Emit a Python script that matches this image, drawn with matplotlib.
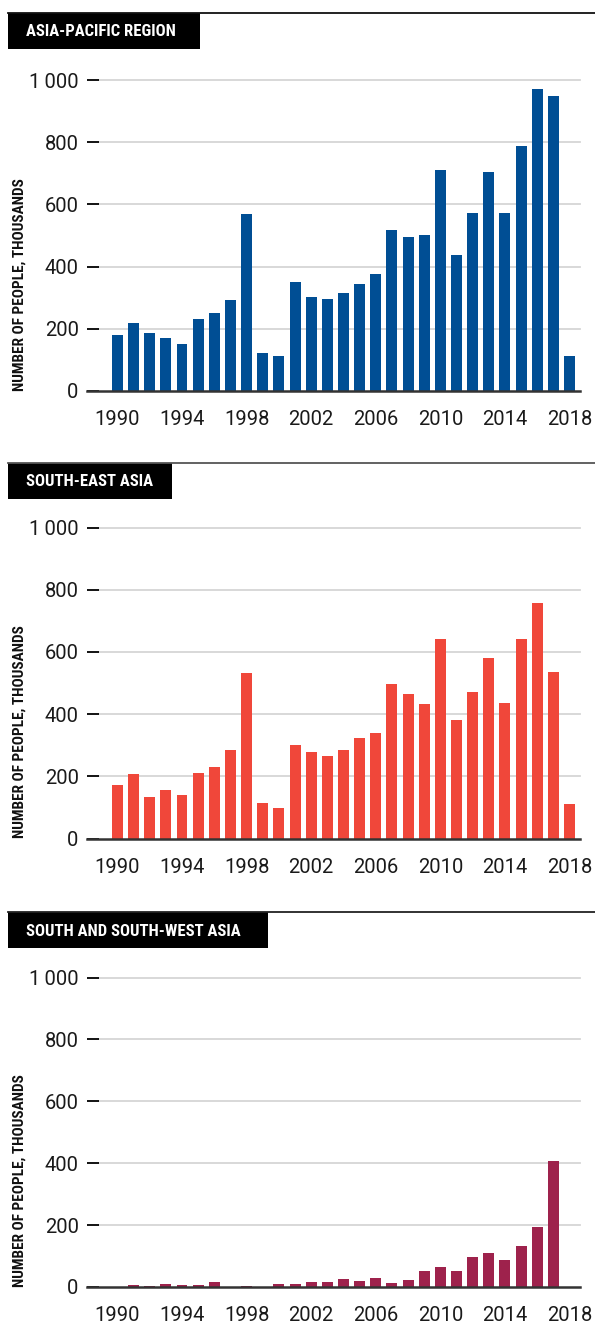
import numpy as np
import matplotlib.pyplot as plt
from matplotlib.patches import Rectangle
from matplotlib.lines import Line2D

# ----------------------------------------------------------------------
# data (thousands of people)
# ----------------------------------------------------------------------

years = list(range(1990, 2019))

asia_pacific = [179, 218, 186, 170, 150, 231, 250, 292, 569, 121,
                112, 350, 301, 295, 314, 343, 376, 517, 495, 501,
                710, 437, 572, 704, 572, 788, 971, 948, 112]

south_east = [172, 207, 133, 156, 139, 210, 230, 284, 532, 114,
              98, 300, 278, 265, 284, 323, 339, 496, 464, 432,
              641, 380, 471, 580, 435, 641, 757, 535, 110]

south_west = [0, 6, 3, 10, 6, 6, 16, 0, 3, 0,
              10, 10, 16, 16, 26, 19, 29, 13, 23, 52,
              65, 52, 97, 110, 87, 132, 194, 406, 0]

titles = ['ASIA-PACIFIC REGION', 'SOUTH-EAST ASIA', 'SOUTH AND SOUTH-WEST ASIA']
series = [asia_pacific, south_east, south_west]
colors = ['#004e94', '#f0473a', '#9e224c']
yticks = [0, 200, 400, 600, 800, 1000]
ytick_labels = ['0', '200', '400', '600', '800', '1\u2009000']
xticks = [1990, 1994, 1998, 2002, 2006, 2010, 2014, 2018]

# ----------------------------------------------------------------------
# layout, in pixels of the 595 x 1325 picture
# ----------------------------------------------------------------------

W, H = 595, 1325
AX_L, AX_R = 99, 580
TICK_L = 87
tops = [80, 527.5, 977.5]       # y pixel of the 1000 line
bots = [391, 838.5, 1287]       # y pixel of 0
rule_y = [13, 462.5, 912]       # thin line above each panel
box_w = [192, 164, 260]
box_h = 36
rule_colors = ['#111111', '#555555', '#222222']

plt.rcParams['font.family'] = ['Roboto', 'DejaVu Sans']
cond = ['Roboto Condensed', 'Roboto', 'DejaVu Sans']

fig = plt.figure(figsize=(W / 100, H / 100), dpi=100)

for i in range(3):
    ax = fig.add_axes([AX_L / W, 1 - bots[i] / H,
                       (AX_R - AX_L) / W, (bots[i] - tops[i]) / H])
    ax.bar(years, series[i], width=0.68, color=colors[i], zorder=3)
    ax.set_xlim(1988.86, 2018.65)
    ax.set_ylim(0, 1000)

    ax.set_yticks(yticks)
    ax.set_yticklabels(ytick_labels)
    ax.set_xticks(xticks)
    ax.set_xticklabels([str(x) for x in xticks])
    ax.tick_params(axis='y', length=12 * 0.72, width=1.3, color='black',
                   pad=6, labelsize=14.5, labelcolor='#1a1a1a')
    ax.tick_params(axis='x', length=0, pad=14, labelsize=14.5,
                   labelcolor='#1a1a1a')

    for s in ax.spines.values():
        s.set_visible(False)
    for y in yticks[1:]:
        ax.axhline(y, color='#d6d6d6', lw=1.3, zorder=1, clip_on=False)

    # baseline runs out under the tick marks
    x0 = (TICK_L - AX_L) / (AX_R - AX_L)
    ax.add_line(Line2D([x0, 1], [0, 0], transform=ax.transAxes,
                       color='#333333', lw=1.8, clip_on=False, zorder=4))

    ax.text((20 - AX_L) / (AX_R - AX_L), 0, 'NUMBER OF PEOPLE, THOUSANDS',
            transform=ax.transAxes, rotation=90, ha='center', va='bottom',
            fontsize=11, fontweight='bold', color='#111111', family=cond)

    # header: rule and black label box
    fig.add_artist(Line2D([8 / W, 1], [1 - rule_y[i] / H] * 2,
                          color=rule_colors[i], lw=1.3))
    fig.add_artist(Rectangle((8 / W, 1 - (rule_y[i] + box_h) / H),
                             box_w[i] / W, box_h / H,
                             facecolor='black', edgecolor='none'))
    fig.text(26 / W, 1 - (rule_y[i] + box_h / 2 + 1) / H, titles[i],
             color='white', fontsize=12, fontweight='bold',
             ha='left', va='center', family=cond)

fig.savefig('out.png', dpi=100)
